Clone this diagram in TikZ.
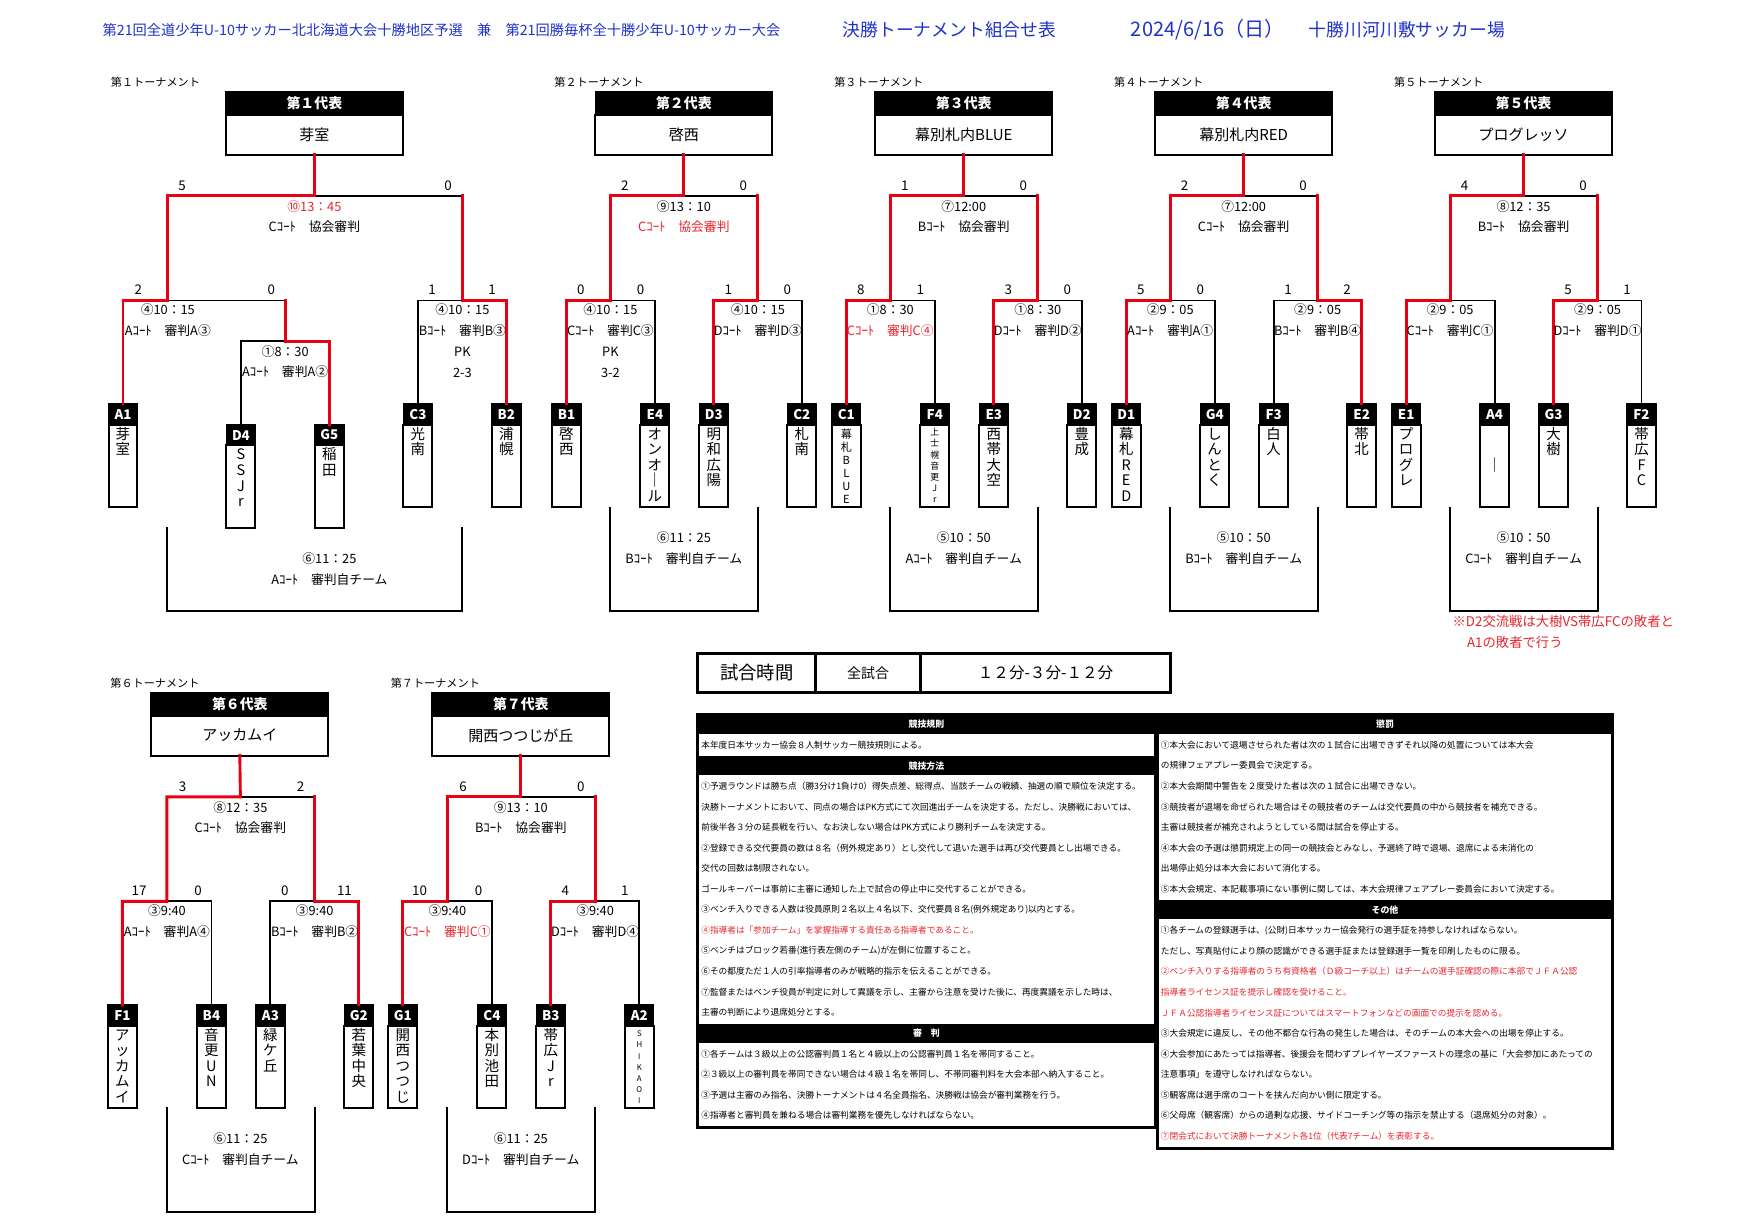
\documentclass[tikz,border=0pt]{standalone}
\usepackage{fontspec}
\setmainfont{Noto Sans CJK JP}
\usetikzlibrary{positioning}
\definecolor{clrWin}{HTML}{E60012}
\definecolor{clrNote}{HTML}{E8262F}
\definecolor{clrTitle}{HTML}{1F33C8}

\begin{document}
\begin{tikzpicture}[x=1pt, y=-1pt,
    title/.style={anchor=west, inner sep=0pt, text=clrTitle},
    tlabel/.style={anchor=west, inner sep=0pt, font=\fontsize{10}{12}\selectfont},
    hdtop/.style={rectangle, fill=black, draw=black, line width=1.6pt, text=white, minimum width=159pt, minimum height=20pt, inner sep=0pt, outer sep=0pt, font=\bfseries\fontsize{12.5}{14}\selectfont},
    hdname/.style={rectangle, draw=black, fill=white, line width=1.8pt, minimum width=159pt, minimum height=36pt, inner sep=0pt, outer sep=0pt, font=\fontsize{13.5}{15}\selectfont},
    codebox/.style={rectangle, fill=black, draw=black, line width=1.2pt, text=white, minimum width=26pt, minimum height=18.6pt, inner sep=0pt, outer sep=0pt, font=\bfseries\fontsize{12}{12}\selectfont},
    namebox/.style={rectangle, draw=black, fill=white, line width=1.8pt, text width=26pt, inner xsep=0pt, inner ysep=2pt, outer sep=0pt, align=center, text height=11pt, text depth=59.4pt, font=\fontsize{13}{14}\selectfont},
    score/.style={inner sep=0pt, font=\fontsize{12}{14}\selectfont},
    match/.style={inner sep=0pt, font=\fontsize{11.5}{13}\selectfont},
    redtxt/.style={text=clrNote},
    win/.style={draw=clrWin, line width=2.6pt, line cap=rect},
    lose/.style={draw=black, line width=1.7pt, line cap=rect},
    note/.style={anchor=west, inner sep=0pt, text=clrNote, font=\fontsize{12}{14}\selectfont},
    gtcell/.style={rectangle, draw=black, line width=2.4pt, minimum height=35pt, inner sep=0pt, outer sep=0pt},
    rulebox/.style={rectangle, draw=black, fill=white, line width=2.4pt, inner sep=0pt},
    rulehead/.style={rectangle, fill=black, text=white, minimum height=17pt, inner sep=0pt, font=\bfseries\fontsize{8}{9}\selectfont},
    ruletxt/.style={anchor=west, inner sep=0pt, font=\fontsize{7.8}{9}\selectfont},
]
\fill[white] (0,0) rectangle (1568,1105);
\useasboundingbox (0,0) rectangle (1568,1105);

% Title line
\node[title, font=\fontsize{12.8}{14}\selectfont] (ttl1) at (92,27) {第21回全道少年U-10サッカー北北海道大会十勝地区予選　兼　第21回勝毎杯全十勝少年U-10サッカー大会};
\node[title, font=\fontsize{16}{18}\selectfont] (ttl2) at (757,27) {決勝トーナメント組合せ表};
\node[title, font=\fontsize{18}{20}\selectfont] (ttl3) at (1016,27) {2024/6/16（日）};
\node[title, font=\fontsize{16}{18}\selectfont] (ttl4) at (1176,27) {十勝川河川敷サッカー場};

% 第1トーナメント (5 teams)
\begin{scope}[shift={(110.5,0)}]
\node[tlabel] (t1lab) at (-11,74) {第１トーナメント};
\node[hdtop] (t1hd) at (172,93) {第１代表};
\node[hdname] (t1hw) at (172,121) {芽室};
\node[codebox] (t1a1) at (0,372.3) {A1};
\node[codebox] (t1d4) at (106,390.9) {D4};
\node[codebox] (t1g5) at (185.5,390.9) {G5};
\node[codebox] (t1c3) at (265,372.3) {C3};
\node[codebox] (t1b2) at (344.5,372.3) {B2};
\node[namebox, below=0pt of t1a1] (t1a1n) {芽\\室};
\node[namebox, below=0pt of t1d4] (t1d4n) {S\\S\\J\\r};
\node[namebox, below=0pt of t1g5] (t1g5n) {稲\\田};
\node[namebox, below=0pt of t1c3] (t1c3n) {光\\南};
\node[namebox, below=0pt of t1b2] (t1b2n) {浦\\幌};
\coordinate (t1T) at (172,176);
\coordinate (t1TL) at (40.3,176);
\coordinate (t1TR) at (305,176);
\coordinate (t1L) at (40.3,270);
\coordinate (t1Lr) at (145.75,270);
\coordinate (t1F) at (145.75,306.8);
\coordinate (t1R) at (305,270);
\draw[lose] (t1TR) -- (t1T);
\draw[lose] (t1L) -- (t1Lr);
\draw[lose] (t1d4.north) |- (t1F);
\draw[lose] (t1c3.north) |- (t1R);
\draw[win] (t1a1.north) |- (t1L) -- (t1TL) -- (t1T) -- (t1hw.south);
\draw[win] (t1g5.north) |- (t1F) -- (t1Lr);
\draw[win] (t1b2.north) |- (t1R) -- (t1TR);
\node[score] (t1s1) at (53.2,167) {5};
\node[score] (t1s2) at (292.2,167) {0};
\node[score] (t1s3) at (13.7,260) {2};
\node[score] (t1s4) at (133.4,260) {0};
\node[score] (t1s5) at (277.8,260) {1};
\node[score] (t1s6) at (331.7,260) {1};
\node[match, redtxt] (t1m1) at (172,186) {⑩13：45};
\node[match] (t1m2) at (172,204) {Cｺｰﾄ　協会審判};
\node[match] (t1m3) at (40.3,278.5) {④10：15};
\node[match] (t1m4) at (40.3,297) {Aｺｰﾄ　審判A③};
\node[match] (t1m5) at (305,278.5) {④10：15};
\node[match] (t1m6) at (305,297) {Bｺｰﾄ　審判B③};
\node[match] (t1m7) at (305,316.4) {PK};
\node[match] (t1m8) at (305,335) {2-3};
\node[match] (t1m9) at (145.75,316.4) {①8：30};
\node[match] (t1m10) at (145.75,334) {Aｺｰﾄ　審判A②};
\coordinate (t1q1) at (39.5,474.3);
\coordinate (t1q2) at (304.5,474.3);
\coordinate (t1q3) at (172,549);
\draw[lose] (t1q1) |- (t1q3) -| (t1q2);
\node[match] (t1k1) at (185.5,502) {⑥11：25};
\node[match] (t1k2) at (185.5,521) {Aｺｰﾄ　審判自チーム};
\end{scope}

% 第2トーナメント
\begin{scope}[shift={(509,0)}]
\node[tlabel] (t2lab) at (-11,74) {第２トーナメント};
\node[hdtop] (t2hd) at (105.5,93) {第２代表};
\node[hdname] (t2hw) at (105.5,121) {啓西};
\node[codebox] (t2b1) at (0,372.3) {B1};
\node[codebox] (t2e4) at (79.5,372.3) {E4};
\node[codebox] (t2d3) at (132.5,372.3) {D3};
\node[codebox] (t2c2) at (211.5,372.3) {C2};
\node[namebox, below=0pt of t2b1] (t2b1n) {啓\\西};
\node[namebox, below=0pt of t2e4] (t2e4n) {オ\\ン\\オ\\｜\\ル};
\node[namebox, below=0pt of t2d3] (t2d3n) {明\\和\\広\\陽};
\node[namebox, below=0pt of t2c2] (t2c2n) {札\\南};
\coordinate (t2T) at (105.5,176);
\coordinate (t2TL) at (39.5,176);
\coordinate (t2TR) at (172,176);
\coordinate (t2L) at (39.5,270);
\coordinate (t2R) at (172,270);
\draw[lose] (t2e4.north) |- (t2L);
\draw[lose] (t2c2.north) |- (t2R);
\draw[lose] (t2TR) -- (t2T);
\draw[win] (t2b1.north) |- (t2L) -- (t2TL) -- (t2T) -- (t2hw.south);
\draw[win] (t2d3.north) |- (t2R) -- (t2TR);
\node[score] (t2s1) at (52.5,167) {2};
\node[score] (t2s2) at (159,167) {0};
\node[score] (t2s3) at (13,260) {0};
\node[score] (t2s4) at (66.5,260) {0};
\node[score] (t2s5) at (145.5,260) {1};
\node[score] (t2s6) at (198.5,260) {0};
\node[match] (t2m1) at (105.5,186) {⑨13：10};
\node[match, redtxt] (t2m2) at (105.5,204) {Cｺｰﾄ　協会審判};
\node[match] (t2m3) at (39.5,278.5) {④10：15};
\node[match] (t2m4) at (39.5,297) {Cｺｰﾄ　審判C③};
\node[match] (t2m5) at (39.5,316.4) {PK};
\node[match] (t2m6) at (39.5,335) {3-2};
\node[match] (t2m7) at (172,278.5) {④10：15};
\node[match] (t2m8) at (172,297) {Dｺｰﾄ　審判D③};
\coordinate (t2q1) at (39.5,456);
\coordinate (t2q2) at (172,456);
\coordinate (t2q3) at (105.5,549);
\draw[lose] (t2q1) |- (t2q3) -| (t2q2);
\node[match] (t2k1) at (105.5,483) {⑥11：25};
\node[match] (t2k2) at (105.5,502) {Bｺｰﾄ　審判自チーム};
\end{scope}

% 第3トーナメント
\begin{scope}[shift={(760.5,0)}]
\node[tlabel] (t3lab) at (-11,74) {第３トーナメント};
\node[hdtop] (t3hd) at (105.5,93) {第３代表};
\node[hdname] (t3hw) at (105.5,121) {幕別札内BLUE};
\node[codebox] (t3c1) at (0,372.3) {C1};
\node[codebox] (t3f4) at (79.5,372.3) {F4};
\node[codebox] (t3e3) at (132.5,372.3) {E3};
\node[codebox] (t3d2) at (211.5,372.3) {D2};
\node[namebox, below=0pt of t3c1, text height=10pt, text depth=60.4pt, font=\fontsize{10}{11.8}\selectfont] (t3c1n) {幕\\札\\B\\L\\U\\E};
\node[namebox, below=0pt of t3f4, text height=8pt, text depth=62.4pt, font=\fontsize{8}{10}\selectfont] (t3f4n) {上\\士\\幌\\音\\更\\J\\r};
\node[namebox, below=0pt of t3e3] (t3e3n) {西\\帯\\大\\空};
\node[namebox, below=0pt of t3d2] (t3d2n) {豊\\成};
\coordinate (t3T) at (105.5,176);
\coordinate (t3TL) at (39.5,176);
\coordinate (t3TR) at (172,176);
\coordinate (t3L) at (39.5,270);
\coordinate (t3R) at (172,270);
\draw[lose] (t3f4.north) |- (t3L);
\draw[lose] (t3d2.north) |- (t3R);
\draw[lose] (t3TR) -- (t3T);
\draw[win] (t3c1.north) |- (t3L) -- (t3TL) -- (t3T) -- (t3hw.south);
\draw[win] (t3e3.north) |- (t3R) -- (t3TR);
\node[score] (t3s1) at (52.5,167) {1};
\node[score] (t3s2) at (159,167) {0};
\node[score] (t3s3) at (13,260) {8};
\node[score] (t3s4) at (66.5,260) {1};
\node[score] (t3s5) at (145.5,260) {3};
\node[score] (t3s6) at (198.5,260) {0};
\node[match] (t3m1) at (105.5,186) {⑦12:00};
\node[match] (t3m2) at (105.5,204) {Bｺｰﾄ　協会審判};
\node[match] (t3m3) at (39.5,278.5) {①8：30};
\node[match, redtxt] (t3m4) at (39.5,297) {Cｺｰﾄ　審判C④};
\node[match] (t3m5) at (172,278.5) {①8：30};
\node[match] (t3m6) at (172,297) {Dｺｰﾄ　審判D②};
\coordinate (t3q1) at (39.5,456);
\coordinate (t3q2) at (172,456);
\coordinate (t3q3) at (105.5,549);
\draw[lose] (t3q1) |- (t3q3) -| (t3q2);
\node[match] (t3k1) at (105.5,483) {⑤10：50};
\node[match] (t3k2) at (105.5,502) {Aｺｰﾄ　審判自チーム};
\end{scope}

% 第4トーナメント
\begin{scope}[shift={(1012,0)}]
\node[tlabel] (t4lab) at (-11,74) {第４トーナメント};
\node[hdtop] (t4hd) at (105.5,93) {第４代表};
\node[hdname] (t4hw) at (105.5,121) {幕別札内RED};
\node[codebox] (t4d1) at (0,372.3) {D1};
\node[codebox] (t4g4) at (79.5,372.3) {G4};
\node[codebox] (t4f3) at (132.5,372.3) {F3};
\node[codebox] (t4e2) at (211.5,372.3) {E2};
\node[namebox, below=0pt of t4d1] (t4d1n) {幕\\札\\R\\E\\D};
\node[namebox, below=0pt of t4g4] (t4g4n) {し\\ん\\と\\く};
\node[namebox, below=0pt of t4f3] (t4f3n) {白\\人};
\node[namebox, below=0pt of t4e2] (t4e2n) {帯\\北};
\coordinate (t4T) at (105.5,176);
\coordinate (t4TL) at (39.5,176);
\coordinate (t4TR) at (172,176);
\coordinate (t4L) at (39.5,270);
\coordinate (t4R) at (172,270);
\draw[lose] (t4g4.north) |- (t4L);
\draw[lose] (t4f3.north) |- (t4R);
\draw[lose] (t4TR) -- (t4T);
\draw[win] (t4d1.north) |- (t4L) -- (t4TL) -- (t4T) -- (t4hw.south);
\draw[win] (t4e2.north) |- (t4R) -- (t4TR);
\node[score] (t4s1) at (52.5,167) {2};
\node[score] (t4s2) at (159,167) {0};
\node[score] (t4s3) at (13,260) {5};
\node[score] (t4s4) at (66.5,260) {0};
\node[score] (t4s5) at (145.5,260) {1};
\node[score] (t4s6) at (198.5,260) {2};
\node[match] (t4m1) at (105.5,186) {⑦12:00};
\node[match] (t4m2) at (105.5,204) {Cｺｰﾄ　協会審判};
\node[match] (t4m3) at (39.5,278.5) {②9：05};
\node[match] (t4m4) at (39.5,297) {Aｺｰﾄ　審判A①};
\node[match] (t4m5) at (172,278.5) {②9：05};
\node[match] (t4m6) at (172,297) {Bｺｰﾄ　審判B④};
\coordinate (t4q1) at (39.5,456);
\coordinate (t4q2) at (172,456);
\coordinate (t4q3) at (105.5,549);
\draw[lose] (t4q1) |- (t4q3) -| (t4q2);
\node[match] (t4k1) at (105.5,483) {⑤10：50};
\node[match] (t4k2) at (105.5,502) {Bｺｰﾄ　審判自チーム};
\end{scope}

% 第5トーナメント
\begin{scope}[shift={(1263.5,0)}]
\node[tlabel] (t5lab) at (-11,74) {第５トーナメント};
\node[hdtop] (t5hd) at (105.5,93) {第５代表};
\node[hdname] (t5hw) at (105.5,121) {プログレッソ};
\node[codebox] (t5e1) at (0,372.3) {E1};
\node[codebox] (t5a4) at (79.5,372.3) {A4};
\node[codebox] (t5g3) at (132.5,372.3) {G3};
\node[codebox] (t5f2) at (211.5,372.3) {F2};
\node[namebox, below=0pt of t5e1] (t5e1n) {プ\\ロ\\グ\\レ};
\node[namebox, below=0pt of t5a4] (t5a4n) {\mbox{}\\\mbox{}\\｜};
\node[namebox, below=0pt of t5g3] (t5g3n) {大\\樹};
\node[namebox, below=0pt of t5f2] (t5f2n) {帯\\広\\F\\C};
\coordinate (t5T) at (105.5,176);
\coordinate (t5TL) at (39.5,176);
\coordinate (t5TR) at (172,176);
\coordinate (t5L) at (39.5,270);
\coordinate (t5R) at (172,270);
\draw[lose] (t5a4.north) |- (t5L);
\draw[lose] (t5f2.north) |- (t5R);
\draw[lose] (t5TR) -- (t5T);
\draw[win] (t5e1.north) |- (t5L) -- (t5TL) -- (t5T) -- (t5hw.south);
\draw[win] (t5g3.north) |- (t5R) -- (t5TR);
\node[score] (t5s1) at (52.5,167) {4};
\node[score] (t5s2) at (159,167) {0};
\node[score] (t5s5) at (145.5,260) {5};
\node[score] (t5s6) at (198.5,260) {1};
\node[match] (t5m1) at (105.5,186) {⑧12：35};
\node[match] (t5m2) at (105.5,204) {Bｺｰﾄ　協会審判};
\node[match] (t5m3) at (39.5,278.5) {②9：05};
\node[match] (t5m4) at (39.5,297) {Cｺｰﾄ　審判C①};
\node[match] (t5m5) at (172,278.5) {②9：05};
\node[match] (t5m6) at (172,297) {Dｺｰﾄ　審判D①};
\coordinate (t5q1) at (39.5,456);
\coordinate (t5q2) at (172,456);
\coordinate (t5q3) at (105.5,549);
\draw[lose] (t5q1) |- (t5q3) -| (t5q2);
\node[match] (t5k1) at (105.5,483) {⑤10：50};
\node[match] (t5k2) at (105.5,502) {Cｺｰﾄ　審判自チーム};
\end{scope}
\node[note] (d2note1) at (1305,558) {※D2交流戦は大樹VS帯広FCの敗者と};
\node[note] (d2note2) at (1318,577) {A1の敗者で行う};

% 第6トーナメント
\begin{scope}[shift={(110,540)}]
\node[tlabel] (t6lab) at (-11,74) {第６トーナメント};
\node[hdtop] (t6hd) at (105.5,93) {第６代表};
\node[hdname] (t6hw) at (105.5,121) {アッカムイ};
\node[codebox] (t6f1) at (0,372.3) {F1};
\node[codebox] (t6b4) at (80,372.3) {B4};
\node[codebox] (t6a3) at (133,372.3) {A3};
\node[codebox] (t6g2) at (212.5,372.3) {G2};
\node[namebox, below=0pt of t6f1] (t6f1n) {ア\\ッ\\カ\\ム\\イ};
\node[namebox, below=0pt of t6b4] (t6b4n) {音\\更\\U\\N};
\node[namebox, below=0pt of t6a3] (t6a3n) {緑\\ケ\\丘};
\node[namebox, below=0pt of t6g2] (t6g2n) {若\\葉\\中\\央};
\coordinate (t6T) at (106,176);
\coordinate (t6TL) at (40,176);
\coordinate (t6TR) at (172.75,176);
\coordinate (t6L) at (40,270);
\coordinate (t6R) at (172.75,270);
\draw[lose] (t6b4.north) |- (t6L);
\draw[lose] (t6a3.north) |- (t6R);
\draw[lose] (t6TR) -- (t6T);
\draw[win] (t6f1.north) |- (t6L) -- (t6TL) -- (t6T) -- (t6hw.south);
\draw[win] (t6g2.north) |- (t6R) -- (t6TR);
\node[score] (t6s1) at (54,167) {3};
\node[score] (t6s2) at (160,167) {2};
\node[score] (t6s3) at (15,260) {17};
\node[score] (t6s4) at (68,260) {0};
\node[score] (t6s5) at (146,260) {0};
\node[score] (t6s6) at (199.5,260) {11};
\node[match] (t6m1) at (106,186) {⑧12：35};
\node[match] (t6m2) at (106,204) {Cｺｰﾄ　協会審判};
\node[match] (t6m3) at (40,278.5) {③9:40};
\node[match] (t6m4) at (40,297) {Aｺｰﾄ　審判A④};
\node[match] (t6m5) at (172.75,278.5) {③9:40};
\node[match] (t6m6) at (172.75,297) {Bｺｰﾄ　審判B②};
\coordinate (t6q1) at (40,456);
\coordinate (t6q2) at (172.75,456);
\coordinate (t6q3) at (106,549);
\draw[lose] (t6q1) |- (t6q3) -| (t6q2);
\node[match] (t6k1) at (106,483) {⑥11：25};
\node[match] (t6k2) at (106,502) {Cｺｰﾄ　審判自チーム};
\end{scope}

% 第7トーナメント
\begin{scope}[shift={(362,540)}]
\node[tlabel] (t7lab) at (-11,74) {第７トーナメント};
\node[hdtop] (t7hd) at (106,93) {第７代表};
\node[hdname] (t7hw) at (106,121) {開西つつじが丘};
\node[codebox] (t7g1) at (0,372.3) {G1};
\node[codebox] (t7c4) at (80,372.3) {C4};
\node[codebox] (t7b3) at (133,372.3) {B3};
\node[codebox] (t7a2) at (212.5,372.3) {A2};
\node[namebox, below=0pt of t7g1] (t7g1n) {開\\西\\つ\\つ\\じ};
\node[namebox, below=0pt of t7c4] (t7c4n) {本\\別\\池\\田};
\node[namebox, below=0pt of t7b3] (t7b3n) {帯\\広\\J\\r};
\node[namebox, below=0pt of t7a2, text height=8pt, text depth=62.4pt, font=\fontsize{7}{10}\selectfont] (t7a2n) {S\\H\\I\\K\\A\\O\\I};
\coordinate (t7T) at (106,176);
\coordinate (t7TL) at (40,176);
\coordinate (t7TR) at (172.75,176);
\coordinate (t7L) at (40,270);
\coordinate (t7R) at (172.75,270);
\draw[lose] (t7c4.north) |- (t7L);
\draw[lose] (t7a2.north) |- (t7R);
\draw[lose] (t7TR) -- (t7T);
\draw[win] (t7g1.north) |- (t7L) -- (t7TL) -- (t7T) -- (t7hw.south);
\draw[win] (t7b3.north) |- (t7R) -- (t7TR);
\node[score] (t7s1) at (54,167) {6};
\node[score] (t7s2) at (160,167) {0};
\node[score] (t7s3) at (15,260) {10};
\node[score] (t7s4) at (68,260) {0};
\node[score] (t7s5) at (146,260) {4};
\node[score] (t7s6) at (199.5,260) {1};
\node[match] (t7m1) at (106,186) {⑨13：10};
\node[match] (t7m2) at (106,204) {Bｺｰﾄ　協会審判};
\node[match] (t7m3) at (40,278.5) {③9:40};
\node[match, redtxt] (t7m4) at (40,297) {Cｺｰﾄ　審判C①};
\node[match] (t7m5) at (172.75,278.5) {③9:40};
\node[match] (t7m6) at (172.75,297) {Dｺｰﾄ　審判D④};
\coordinate (t7q1) at (40,456);
\coordinate (t7q2) at (172.75,456);
\coordinate (t7q3) at (106,549);
\draw[lose] (t7q1) |- (t7q3) -| (t7q2);
\node[match] (t7k1) at (106,483) {⑥11：25};
\node[match] (t7k2) at (106,502) {Dｺｰﾄ　審判自チーム};
\end{scope}

% Game time
\node[gtcell, minimum width=106pt, font=\fontsize{16.5}{18}\selectfont] (gt1) at (680,604.5) {試合時間};
\node[gtcell, minimum width=94pt, font=\fontsize{12.5}{14}\selectfont, right=0pt of gt1] (gt2) {全試合};
\node[gtcell, minimum width=225pt, font=\fontsize{14}{16}\selectfont, right=0pt of gt2] (gt3) {１２分-３分-１２分};

% Rules (left)
\node[rulebox, minimum width=411pt, minimum height=371pt] (rulesL) at (832.5,827.5) {};
\node[rulehead, minimum width=411pt] (rh1) at (832.5,651) {競技規則};
\node[rulehead, minimum width=411pt] (rh2) at (832.5,688) {競技方法};
\node[rulehead, minimum width=411pt] (rh3) at (832.5,928.5) {審　判};
\node[ruletxt] (rl1) at (630,669.5) {本年度日本サッカー協会８人制サッカー競技規則による。};
\node[ruletxt] (rl2) at (630,706.5) {①予選ラウンドは勝ち点（勝3分け1負け0）得失点差、総得点、当該チームの戦績、抽選の順で順位を決定する。};
\node[ruletxt] (rl3) at (630,725) {決勝トーナメントにおいて、同点の場合はPK方式にて次回進出チームを決定する。ただし、決勝戦においては、};
\node[ruletxt] (rl4) at (630,743.5) {前後半各３分の延長戦を行い、なお決しない場合はPK方式により勝利チームを決定する。};
\node[ruletxt] (rl5) at (630,762) {②登録できる交代要員の数は８名（例外規定あり）とし交代して退いた選手は再び交代要員とし出場できる。};
\node[ruletxt] (rl6) at (630,780.5) {交代の回数は制限されない。};
\node[ruletxt] (rl7) at (630,799) {ゴールキーパーは事前に主審に通知した上で試合の停止中に交代することができる。};
\node[ruletxt] (rl8) at (630,817.5) {③ベンチ入りできる人数は役員原則２名以上４名以下、交代要員８名(例外規定あり)以内とする。};
\node[ruletxt, redtxt] (rl9) at (630,836) {④指導者は「参加チーム」を掌握指導する責任ある指導者であること。};
\node[ruletxt] (rl10) at (630,854.5) {⑤ベンチはブロック若番(進行表左側のチーム)が左側に位置すること。};
\node[ruletxt] (rl11) at (630,873) {⑥その都度ただ１人の引率指導者のみが戦略的指示を伝えることができる。};
\node[ruletxt] (rl12) at (630,891.5) {⑦監督またはベンチ役員が判定に対して異議を示し、主審から注意を受けた後に、再度異議を示した時は、};
\node[ruletxt] (rl13) at (630,910) {主審の判断により退席処分とする。};
\node[ruletxt] (rl14) at (630,947) {①各チームは３級以上の公認審判員１名と４級以上の公認審判員１名を帯同すること。};
\node[ruletxt] (rl15) at (630,965.5) {②３級以上の審判員を帯同できない場合は４級１名を帯同し、不帯同審判料を大会本部へ納入すること。};
\node[ruletxt] (rl16) at (630,984) {③予選は主審のみ指名、決勝トーナメントは４名全員指名、決勝戦は協会が審判業務を行う。};
\node[ruletxt] (rl17) at (630,1002.5) {④指導者と審判員を兼ねる場合は審判業務を優先しなければならない。};

% Rules (right)
\node[rulebox, minimum width=409pt, minimum height=390pt] (rulesR) at (1244.5,837) {};
\node[rulehead, minimum width=409pt] (rh4) at (1244.5,651) {懲罰};
\node[rulehead, minimum width=409pt] (rh5) at (1244.5,817.5) {その他};
\node[ruletxt] (rr1) at (1043,669.5) {①本大会において退場させられた者は次の１試合に出場できずそれ以降の処置については本大会};
\node[ruletxt] (rr2) at (1043,688) {の規律フェアプレー委員会で決定する。};
\node[ruletxt] (rr3) at (1043,706.5) {②本大会期間中警告を２度受けた者は次の１試合に出場できない。};
\node[ruletxt] (rr4) at (1043,725) {③競技者が退場を命ぜられた場合はその競技者のチームは交代要員の中から競技者を補充できる。};
\node[ruletxt] (rr5) at (1043,743.5) {主審は競技者が補充されようとしている間は試合を停止する。};
\node[ruletxt] (rr6) at (1043,762) {④本大会の予選は懲罰規定上の同一の競技会とみなし、予選終了時で退場、退席による未消化の};
\node[ruletxt] (rr7) at (1043,780.5) {出場停止処分は本大会において消化する。};
\node[ruletxt] (rr8) at (1043,799) {⑤本大会規定、本記載事項にない事例に関しては、本大会規律フェアプレー委員会において決定する。};
\node[ruletxt] (rr9) at (1043,836) {①各チームの登録選手は、(公財)日本サッカー協会発行の選手証を持参しなければならない。};
\node[ruletxt] (rr10) at (1043,854.5) {ただし、写真貼付により顔の認識ができる選手証または登録選手一覧を印刷したものに限る。};
\node[ruletxt, redtxt] (rr11) at (1043,873) {②ベンチ入りする指導者のうち有資格者（Ｄ級コーチ以上）はチームの選手証確認の際に本部でＪＦＡ公認};
\node[ruletxt, redtxt] (rr12) at (1043,891.5) {指導者ライセンス証を提示し確認を受けること。};
\node[ruletxt, redtxt] (rr13) at (1043,910) {ＪＦＡ公認指導者ライセンス証についてはスマートフォンなどの画面での提示を認める。};
\node[ruletxt] (rr14) at (1043,928.5) {③大会規定に違反し、その他不都合な行為の発生した場合は、そのチームの本大会への出場を停止する。};
\node[ruletxt] (rr15) at (1043,947) {④大会参加にあたっては指導者、後援会を問わずプレイヤーズファーストの理念の基に「大会参加にあたっての};
\node[ruletxt] (rr16) at (1043,965.5) {注意事項」を遵守しなければならない。};
\node[ruletxt] (rr17) at (1043,984) {⑤観客席は選手席のコートを挟んだ向かい側に限定する。};
\node[ruletxt] (rr18) at (1043,1002.5) {⑥父母席（観客席）からの過剰な応援、サイドコーチング等の指示を禁止する（退席処分の対象）。};
\node[ruletxt, redtxt] (rr19) at (1043,1021) {⑦閉会式において決勝トーナメント各1位（代表7チーム）を表彰する。};

\end{tikzpicture}
\end{document}
